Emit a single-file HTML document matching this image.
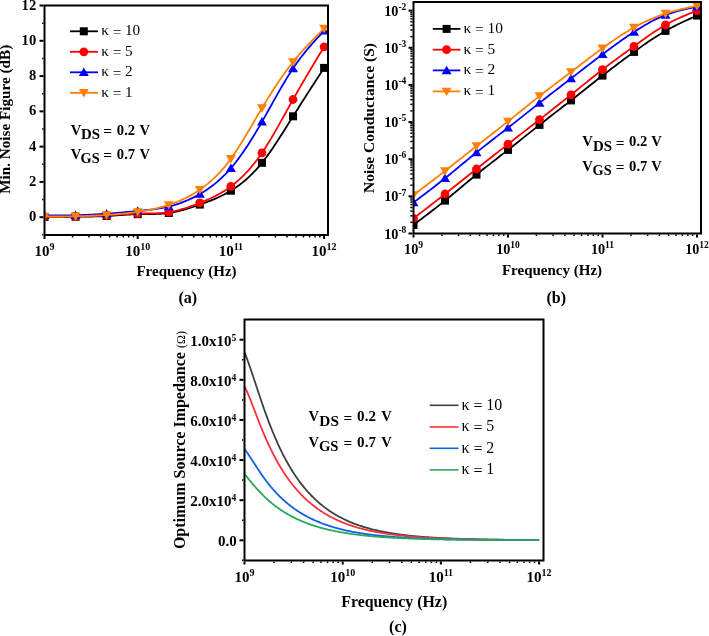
<!DOCTYPE html>
<html><head><meta charset="utf-8"><style>
html,body{margin:0;padding:0;background:#fff;}
svg{display:block;will-change:transform;}
text{font-family:"Liberation Serif", serif;fill:#000;}
</style></head><body>
<svg width="709" height="636" viewBox="0 0 709 636">
<rect width="709" height="636" fill="#fff"/>
<g id="plotA">
<clipPath id="cA"><rect x="44.5" y="5.5" width="283.5" height="229.5"/></clipPath>
<g clip-path="url(#cA)">
<path d="M44.5 217 L46.05 216.98 L47.61 216.97 L49.16 216.95 L50.71 216.94 L52.27 216.92 L53.82 216.91 L55.37 216.89 L56.93 216.87 L58.48 216.86 L60.03 216.84 L61.59 216.83 L63.14 216.81 L64.69 216.8 L66.25 216.78 L67.8 216.77 L69.35 216.76 L70.91 216.74 L72.46 216.73 L74.01 216.71 L75.57 216.7 L77.12 216.69 L78.67 216.67 L80.23 216.66 L81.78 216.64 L83.33 216.63 L84.89 216.61 L86.44 216.59 L87.99 216.57 L89.55 216.55 L91.1 216.52 L92.65 216.49 L94.21 216.45 L95.76 216.41 L97.31 216.37 L98.87 216.32 L100.42 216.27 L101.97 216.21 L103.53 216.15 L105.08 216.08 L106.63 216 L108.19 215.92 L109.74 215.83 L111.29 215.73 L112.85 215.63 L114.4 215.53 L115.95 215.42 L117.51 215.32 L119.06 215.21 L120.61 215.1 L122.17 215 L123.72 214.89 L125.27 214.79 L126.83 214.69 L128.38 214.6 L129.93 214.51 L131.49 214.44 L133.04 214.36 L134.59 214.3 L136.15 214.24 L137.7 214.2 L139.25 214.17 L140.81 214.14 L142.36 214.12 L143.91 214.11 L145.47 214.1 L147.02 214.1 L148.57 214.09 L150.13 214.08 L151.68 214.06 L153.23 214.04 L154.79 214.01 L156.34 213.96 L157.89 213.91 L159.45 213.84 L161 213.75 L162.55 213.65 L164.11 213.52 L165.66 213.37 L167.21 213.2 L168.77 213 L170.32 212.77 L171.87 212.52 L173.43 212.24 L174.98 211.93 L176.53 211.6 L178.09 211.24 L179.64 210.87 L181.19 210.48 L182.75 210.06 L184.3 209.63 L185.85 209.18 L187.41 208.72 L188.96 208.24 L190.51 207.75 L192.07 207.25 L193.62 206.73 L195.17 206.21 L196.73 205.68 L198.28 205.14 L199.83 204.6 L201.39 204.05 L202.94 203.5 L204.49 202.93 L206.05 202.36 L207.6 201.78 L209.15 201.19 L210.71 200.58 L212.26 199.95 L213.81 199.31 L215.37 198.65 L216.92 197.97 L218.47 197.27 L220.03 196.55 L221.58 195.8 L223.13 195.03 L224.69 194.22 L226.24 193.39 L227.79 192.53 L229.35 191.63 L230.9 190.7 L232.45 189.73 L234.01 188.73 L235.56 187.69 L237.11 186.61 L238.67 185.49 L240.22 184.32 L241.77 183.12 L243.33 181.86 L244.88 180.56 L246.43 179.22 L247.99 177.82 L249.54 176.37 L251.09 174.87 L252.65 173.32 L254.2 171.71 L255.75 170.05 L257.31 168.32 L258.86 166.54 L260.41 164.7 L261.97 162.8 L263.52 160.84 L265.07 158.81 L266.63 156.73 L268.18 154.6 L269.73 152.42 L271.29 150.19 L272.84 147.93 L274.39 145.62 L275.95 143.28 L277.5 140.91 L279.05 138.51 L280.61 136.09 L282.16 133.65 L283.71 131.19 L285.27 128.72 L286.82 126.24 L288.37 123.76 L289.93 121.27 L291.48 118.78 L293.03 116.3 L294.59 113.83 L296.14 111.36 L297.69 108.9 L299.25 106.45 L300.8 104.01 L302.35 101.57 L303.91 99.14 L305.46 96.72 L307.01 94.3 L308.57 91.88 L310.12 89.47 L311.67 87.07 L313.23 84.66 L314.78 82.26 L316.33 79.87 L317.89 77.47 L319.44 75.08 L320.99 72.68 L322.55 70.29 L324.1 67.9" fill="none" stroke="#000000" stroke-width="1.8"/>
<rect x="40.5" y="213" width="8" height="8" fill="#000000"/>
<rect x="71.57" y="212.7" width="8" height="8" fill="#000000"/>
<rect x="102.63" y="212" width="8" height="8" fill="#000000"/>
<rect x="133.7" y="210.2" width="8" height="8" fill="#000000"/>
<rect x="164.77" y="209" width="8" height="8" fill="#000000"/>
<rect x="195.83" y="200.6" width="8" height="8" fill="#000000"/>
<rect x="226.9" y="186.7" width="8" height="8" fill="#000000"/>
<rect x="257.97" y="158.8" width="8" height="8" fill="#000000"/>
<rect x="289.03" y="112.3" width="8" height="8" fill="#000000"/>
<rect x="320.1" y="63.9" width="8" height="8" fill="#000000"/>
<path d="M44.5 216.8 L46.05 216.79 L47.61 216.78 L49.16 216.77 L50.71 216.76 L52.27 216.75 L53.82 216.74 L55.37 216.73 L56.93 216.72 L58.48 216.71 L60.03 216.7 L61.59 216.68 L63.14 216.67 L64.69 216.65 L66.25 216.63 L67.8 216.61 L69.35 216.59 L70.91 216.57 L72.46 216.55 L74.01 216.53 L75.57 216.5 L77.12 216.47 L78.67 216.44 L80.23 216.41 L81.78 216.38 L83.33 216.34 L84.89 216.3 L86.44 216.26 L87.99 216.21 L89.55 216.16 L91.1 216.11 L92.65 216.06 L94.21 216 L95.76 215.94 L97.31 215.88 L98.87 215.81 L100.42 215.73 L101.97 215.66 L103.53 215.58 L105.08 215.49 L106.63 215.4 L108.19 215.31 L109.74 215.21 L111.29 215.1 L112.85 215 L114.4 214.89 L115.95 214.79 L117.51 214.68 L119.06 214.57 L120.61 214.47 L122.17 214.36 L123.72 214.26 L125.27 214.16 L126.83 214.07 L128.38 213.98 L129.93 213.9 L131.49 213.82 L133.04 213.76 L134.59 213.69 L136.15 213.64 L137.7 213.6 L139.25 213.57 L140.81 213.54 L142.36 213.52 L143.91 213.51 L145.47 213.5 L147.02 213.48 L148.57 213.47 L150.13 213.45 L151.68 213.43 L153.23 213.4 L154.79 213.36 L156.34 213.3 L157.89 213.23 L159.45 213.15 L161 213.05 L162.55 212.93 L164.11 212.78 L165.66 212.62 L167.21 212.42 L168.77 212.2 L170.32 211.95 L171.87 211.67 L173.43 211.36 L174.98 211.02 L176.53 210.66 L178.09 210.28 L179.64 209.87 L181.19 209.44 L182.75 208.98 L184.3 208.51 L185.85 208.02 L187.41 207.51 L188.96 206.98 L190.51 206.44 L192.07 205.88 L193.62 205.31 L195.17 204.72 L196.73 204.12 L198.28 203.52 L199.83 202.9 L201.39 202.27 L202.94 201.64 L204.49 200.99 L206.05 200.33 L207.6 199.65 L209.15 198.96 L210.71 198.25 L212.26 197.51 L213.81 196.75 L215.37 195.97 L216.92 195.16 L218.47 194.33 L220.03 193.46 L221.58 192.56 L223.13 191.63 L224.69 190.66 L226.24 189.66 L227.79 188.61 L229.35 187.53 L230.9 186.4 L232.45 185.23 L234.01 184.01 L235.56 182.74 L237.11 181.43 L238.67 180.07 L240.22 178.66 L241.77 177.19 L243.33 175.67 L244.88 174.1 L246.43 172.47 L247.99 170.79 L249.54 169.05 L251.09 167.25 L252.65 165.39 L254.2 163.47 L255.75 161.48 L257.31 159.44 L258.86 157.32 L260.41 155.15 L261.97 152.9 L263.52 150.59 L265.07 148.21 L266.63 145.77 L268.18 143.28 L269.73 140.74 L271.29 138.15 L272.84 135.52 L274.39 132.85 L275.95 130.15 L277.5 127.42 L279.05 124.66 L280.61 121.89 L282.16 119.1 L283.71 116.3 L285.27 113.49 L286.82 110.68 L288.37 107.87 L289.93 105.07 L291.48 102.28 L293.03 99.5 L294.59 96.74 L296.14 94.01 L297.69 91.28 L299.25 88.58 L300.8 85.89 L302.35 83.22 L303.91 80.56 L305.46 77.91 L307.01 75.28 L308.57 72.66 L310.12 70.04 L311.67 67.44 L313.23 64.84 L314.78 62.25 L316.33 59.67 L317.89 57.09 L319.44 54.51 L320.99 51.94 L322.55 49.37 L324.1 46.8" fill="none" stroke="#ff0000" stroke-width="1.8"/>
<circle cx="44.5" cy="216.8" r="4.4" fill="#ff0000"/>
<circle cx="75.57" cy="216.5" r="4.4" fill="#ff0000"/>
<circle cx="106.63" cy="215.4" r="4.4" fill="#ff0000"/>
<circle cx="137.7" cy="213.6" r="4.4" fill="#ff0000"/>
<circle cx="168.77" cy="212.2" r="4.4" fill="#ff0000"/>
<circle cx="199.83" cy="202.9" r="4.4" fill="#ff0000"/>
<circle cx="230.9" cy="186.4" r="4.4" fill="#ff0000"/>
<circle cx="261.97" cy="152.9" r="4.4" fill="#ff0000"/>
<circle cx="293.03" cy="99.5" r="4.4" fill="#ff0000"/>
<circle cx="324.1" cy="46.8" r="4.4" fill="#ff0000"/>
<path d="M44.5 215.3 L46.05 215.31 L47.61 215.32 L49.16 215.33 L50.71 215.34 L52.27 215.34 L53.82 215.35 L55.37 215.35 L56.93 215.36 L58.48 215.36 L60.03 215.36 L61.59 215.36 L63.14 215.35 L64.69 215.34 L66.25 215.33 L67.8 215.32 L69.35 215.3 L70.91 215.28 L72.46 215.26 L74.01 215.23 L75.57 215.2 L77.12 215.16 L78.67 215.12 L80.23 215.08 L81.78 215.03 L83.33 214.98 L84.89 214.92 L86.44 214.86 L87.99 214.79 L89.55 214.72 L91.1 214.65 L92.65 214.57 L94.21 214.49 L95.76 214.4 L97.31 214.31 L98.87 214.22 L100.42 214.12 L101.97 214.02 L103.53 213.92 L105.08 213.81 L106.63 213.7 L108.19 213.59 L109.74 213.47 L111.29 213.35 L112.85 213.22 L114.4 213.09 L115.95 212.96 L117.51 212.83 L119.06 212.7 L120.61 212.56 L122.17 212.43 L123.72 212.29 L125.27 212.15 L126.83 212 L128.38 211.86 L129.93 211.72 L131.49 211.58 L133.04 211.43 L134.59 211.29 L136.15 211.14 L137.7 211 L139.25 210.86 L140.81 210.71 L142.36 210.57 L143.91 210.42 L145.47 210.26 L147.02 210.1 L148.57 209.94 L150.13 209.76 L151.68 209.58 L153.23 209.39 L154.79 209.18 L156.34 208.96 L157.89 208.73 L159.45 208.48 L161 208.22 L162.55 207.93 L164.11 207.63 L165.66 207.31 L167.21 206.97 L168.77 206.6 L170.32 206.21 L171.87 205.8 L173.43 205.36 L174.98 204.89 L176.53 204.41 L178.09 203.89 L179.64 203.36 L181.19 202.79 L182.75 202.2 L184.3 201.59 L185.85 200.95 L187.41 200.28 L188.96 199.59 L190.51 198.87 L192.07 198.13 L193.62 197.36 L195.17 196.56 L196.73 195.73 L198.28 194.88 L199.83 194 L201.39 193.09 L202.94 192.15 L204.49 191.19 L206.05 190.18 L207.6 189.15 L209.15 188.08 L210.71 186.96 L212.26 185.81 L213.81 184.62 L215.37 183.38 L216.92 182.1 L218.47 180.77 L220.03 179.39 L221.58 177.96 L223.13 176.47 L224.69 174.94 L226.24 173.34 L227.79 171.69 L229.35 169.97 L230.9 168.2 L232.45 166.36 L234.01 164.46 L235.56 162.5 L237.11 160.49 L238.67 158.41 L240.22 156.28 L241.77 154.1 L243.33 151.87 L244.88 149.59 L246.43 147.26 L247.99 144.89 L249.54 142.47 L251.09 140.01 L252.65 137.52 L254.2 134.98 L255.75 132.41 L257.31 129.8 L258.86 127.17 L260.41 124.5 L261.97 121.8 L263.52 119.08 L265.07 116.33 L266.63 113.57 L268.18 110.79 L269.73 108.01 L271.29 105.22 L272.84 102.43 L274.39 99.65 L275.95 96.88 L277.5 94.12 L279.05 91.39 L280.61 88.67 L282.16 85.99 L283.71 83.34 L285.27 80.73 L286.82 78.16 L288.37 75.64 L289.93 73.17 L291.48 70.75 L293.03 68.4 L294.59 66.11 L296.14 63.89 L297.69 61.72 L299.25 59.61 L300.8 57.56 L302.35 55.55 L303.91 53.59 L305.46 51.67 L307.01 49.79 L308.57 47.95 L310.12 46.14 L311.67 44.36 L313.23 42.61 L314.78 40.88 L316.33 39.17 L317.89 37.48 L319.44 35.8 L320.99 34.12 L322.55 32.46 L324.1 30.8" fill="none" stroke="#0000ff" stroke-width="1.8"/>
<path d="M44.5 210.6L49.5 219.06L39.5 219.06Z" fill="#0000ff"/>
<path d="M75.57 210.5L80.57 218.96L70.57 218.96Z" fill="#0000ff"/>
<path d="M106.63 209L111.63 217.46L101.63 217.46Z" fill="#0000ff"/>
<path d="M137.7 206.3L142.7 214.76L132.7 214.76Z" fill="#0000ff"/>
<path d="M168.77 201.9L173.77 210.36L163.77 210.36Z" fill="#0000ff"/>
<path d="M199.83 189.3L204.83 197.76L194.83 197.76Z" fill="#0000ff"/>
<path d="M230.9 163.5L235.9 171.96L225.9 171.96Z" fill="#0000ff"/>
<path d="M261.97 117.1L266.97 125.56L256.97 125.56Z" fill="#0000ff"/>
<path d="M293.03 63.7L298.03 72.16L288.03 72.16Z" fill="#0000ff"/>
<path d="M324.1 26.1L329.1 34.56L319.1 34.56Z" fill="#0000ff"/>
<path d="M44.5 216.5 L46.05 216.5 L47.61 216.51 L49.16 216.51 L50.71 216.51 L52.27 216.51 L53.82 216.51 L55.37 216.51 L56.93 216.51 L58.48 216.5 L60.03 216.5 L61.59 216.49 L63.14 216.48 L64.69 216.47 L66.25 216.45 L67.8 216.43 L69.35 216.41 L70.91 216.39 L72.46 216.36 L74.01 216.33 L75.57 216.3 L77.12 216.26 L78.67 216.22 L80.23 216.18 L81.78 216.13 L83.33 216.08 L84.89 216.02 L86.44 215.96 L87.99 215.9 L89.55 215.83 L91.1 215.76 L92.65 215.69 L94.21 215.61 L95.76 215.53 L97.31 215.45 L98.87 215.37 L100.42 215.28 L101.97 215.19 L103.53 215.1 L105.08 215 L106.63 214.9 L108.19 214.8 L109.74 214.69 L111.29 214.59 L112.85 214.47 L114.4 214.36 L115.95 214.24 L117.51 214.11 L119.06 213.98 L120.61 213.85 L122.17 213.71 L123.72 213.56 L125.27 213.4 L126.83 213.24 L128.38 213.08 L129.93 212.9 L131.49 212.72 L133.04 212.53 L134.59 212.33 L136.15 212.12 L137.7 211.9 L139.25 211.67 L140.81 211.44 L142.36 211.19 L143.91 210.93 L145.47 210.66 L147.02 210.38 L148.57 210.08 L150.13 209.77 L151.68 209.45 L153.23 209.12 L154.79 208.77 L156.34 208.4 L157.89 208.02 L159.45 207.63 L161 207.22 L162.55 206.79 L164.11 206.34 L165.66 205.88 L167.21 205.4 L168.77 204.9 L170.32 204.38 L171.87 203.84 L173.43 203.28 L174.98 202.7 L176.53 202.1 L178.09 201.47 L179.64 200.81 L181.19 200.14 L182.75 199.43 L184.3 198.7 L185.85 197.94 L187.41 197.15 L188.96 196.34 L190.51 195.49 L192.07 194.61 L193.62 193.69 L195.17 192.75 L196.73 191.77 L198.28 190.75 L199.83 189.7 L201.39 188.61 L202.94 187.48 L204.49 186.32 L206.05 185.11 L207.6 183.86 L209.15 182.56 L210.71 181.21 L212.26 179.82 L213.81 178.38 L215.37 176.88 L216.92 175.33 L218.47 173.73 L220.03 172.06 L221.58 170.34 L223.13 168.56 L224.69 166.72 L226.24 164.82 L227.79 162.84 L229.35 160.81 L230.9 158.7 L232.45 156.52 L234.01 154.28 L235.56 151.98 L237.11 149.62 L238.67 147.21 L240.22 144.76 L241.77 142.26 L243.33 139.72 L244.88 137.15 L246.43 134.56 L247.99 131.94 L249.54 129.3 L251.09 126.65 L252.65 123.99 L254.2 121.32 L255.75 118.66 L257.31 116 L258.86 113.35 L260.41 110.72 L261.97 108.1 L263.52 105.51 L265.07 102.94 L266.63 100.4 L268.18 97.89 L269.73 95.4 L271.29 92.94 L272.84 90.51 L274.39 88.11 L275.95 85.74 L277.5 83.41 L279.05 81.11 L280.61 78.84 L282.16 76.6 L283.71 74.4 L285.27 72.24 L286.82 70.11 L288.37 68.03 L289.93 65.98 L291.48 63.97 L293.03 62 L294.59 60.07 L296.14 58.19 L297.69 56.34 L299.25 54.52 L300.8 52.74 L302.35 50.99 L303.91 49.27 L305.46 47.57 L307.01 45.91 L308.57 44.26 L310.12 42.63 L311.67 41.03 L313.23 39.44 L314.78 37.86 L316.33 36.3 L317.89 34.75 L319.44 33.2 L320.99 31.67 L322.55 30.13 L324.1 28.6" fill="none" stroke="#ff8000" stroke-width="1.8"/>
<path d="M44.5 221.2L49.5 212.74L39.5 212.74Z" fill="#ff8000"/>
<path d="M75.57 221L80.57 212.54L70.57 212.54Z" fill="#ff8000"/>
<path d="M106.63 219.6L111.63 211.14L101.63 211.14Z" fill="#ff8000"/>
<path d="M137.7 216.6L142.7 208.14L132.7 208.14Z" fill="#ff8000"/>
<path d="M168.77 209.6L173.77 201.14L163.77 201.14Z" fill="#ff8000"/>
<path d="M199.83 194.4L204.83 185.94L194.83 185.94Z" fill="#ff8000"/>
<path d="M230.9 163.4L235.9 154.94L225.9 154.94Z" fill="#ff8000"/>
<path d="M261.97 112.8L266.97 104.34L256.97 104.34Z" fill="#ff8000"/>
<path d="M293.03 66.7L298.03 58.24L288.03 58.24Z" fill="#ff8000"/>
<path d="M324.1 33.3L329.1 24.84L319.1 24.84Z" fill="#ff8000"/>
</g>
<path d="M44.5 5.5H328V235H44.5Z" fill="none" stroke="#000" stroke-width="2" stroke-linejoin="miter"/>
<line x1="43.5" y1="217.2" x2="39.5" y2="217.2" stroke="#000" stroke-width="2"/>
<line x1="43.5" y1="199.56" x2="42.1" y2="199.56" stroke="#000" stroke-width="1.5"/>
<line x1="43.5" y1="181.92" x2="39.5" y2="181.92" stroke="#000" stroke-width="2"/>
<line x1="43.5" y1="164.28" x2="42.1" y2="164.28" stroke="#000" stroke-width="1.5"/>
<line x1="43.5" y1="146.64" x2="39.5" y2="146.64" stroke="#000" stroke-width="2"/>
<line x1="43.5" y1="129" x2="42.1" y2="129" stroke="#000" stroke-width="1.5"/>
<line x1="43.5" y1="111.36" x2="39.5" y2="111.36" stroke="#000" stroke-width="2"/>
<line x1="43.5" y1="93.72" x2="42.1" y2="93.72" stroke="#000" stroke-width="1.5"/>
<line x1="43.5" y1="76.08" x2="39.5" y2="76.08" stroke="#000" stroke-width="2"/>
<line x1="43.5" y1="58.44" x2="42.1" y2="58.44" stroke="#000" stroke-width="1.5"/>
<line x1="43.5" y1="40.8" x2="39.5" y2="40.8" stroke="#000" stroke-width="2"/>
<line x1="43.5" y1="23.16" x2="42.1" y2="23.16" stroke="#000" stroke-width="1.5"/>
<line x1="43.5" y1="5.52" x2="39.5" y2="5.52" stroke="#000" stroke-width="2"/>
<line x1="43.5" y1="234.84" x2="42.1" y2="234.84" stroke="#000" stroke-width="1.5"/>
<text x="36.2" y="221.2" font-size="14.6" font-weight="bold" text-anchor="end" >0</text>
<text x="36.2" y="185.92" font-size="14.6" font-weight="bold" text-anchor="end" >2</text>
<text x="36.2" y="150.64" font-size="14.6" font-weight="bold" text-anchor="end" >4</text>
<text x="36.2" y="115.36" font-size="14.6" font-weight="bold" text-anchor="end" >6</text>
<text x="36.2" y="80.08" font-size="14.6" font-weight="bold" text-anchor="end" >8</text>
<text x="36.2" y="44.8" font-size="14.6" font-weight="bold" text-anchor="end" >10</text>
<text x="36.2" y="9.52" font-size="14.6" font-weight="bold" text-anchor="end" >12</text>
<line x1="44.5" y1="236" x2="44.5" y2="239" stroke="#000" stroke-width="2"/>
<line x1="72.56" y1="236" x2="72.56" y2="237.5" stroke="#000" stroke-width="1.5"/>
<line x1="88.97" y1="236" x2="88.97" y2="237.5" stroke="#000" stroke-width="1.5"/>
<line x1="100.61" y1="236" x2="100.61" y2="237.5" stroke="#000" stroke-width="1.5"/>
<line x1="109.64" y1="236" x2="109.64" y2="237.5" stroke="#000" stroke-width="1.5"/>
<line x1="117.02" y1="236" x2="117.02" y2="237.5" stroke="#000" stroke-width="1.5"/>
<line x1="123.26" y1="236" x2="123.26" y2="237.5" stroke="#000" stroke-width="1.5"/>
<line x1="128.67" y1="236" x2="128.67" y2="237.5" stroke="#000" stroke-width="1.5"/>
<line x1="133.44" y1="236" x2="133.44" y2="237.5" stroke="#000" stroke-width="1.5"/>
<line x1="137.7" y1="236" x2="137.7" y2="239" stroke="#000" stroke-width="2"/>
<line x1="165.76" y1="236" x2="165.76" y2="237.5" stroke="#000" stroke-width="1.5"/>
<line x1="182.17" y1="236" x2="182.17" y2="237.5" stroke="#000" stroke-width="1.5"/>
<line x1="193.81" y1="236" x2="193.81" y2="237.5" stroke="#000" stroke-width="1.5"/>
<line x1="202.84" y1="236" x2="202.84" y2="237.5" stroke="#000" stroke-width="1.5"/>
<line x1="210.22" y1="236" x2="210.22" y2="237.5" stroke="#000" stroke-width="1.5"/>
<line x1="216.46" y1="236" x2="216.46" y2="237.5" stroke="#000" stroke-width="1.5"/>
<line x1="221.87" y1="236" x2="221.87" y2="237.5" stroke="#000" stroke-width="1.5"/>
<line x1="226.64" y1="236" x2="226.64" y2="237.5" stroke="#000" stroke-width="1.5"/>
<line x1="230.9" y1="236" x2="230.9" y2="239" stroke="#000" stroke-width="2"/>
<line x1="258.96" y1="236" x2="258.96" y2="237.5" stroke="#000" stroke-width="1.5"/>
<line x1="275.37" y1="236" x2="275.37" y2="237.5" stroke="#000" stroke-width="1.5"/>
<line x1="287.01" y1="236" x2="287.01" y2="237.5" stroke="#000" stroke-width="1.5"/>
<line x1="296.04" y1="236" x2="296.04" y2="237.5" stroke="#000" stroke-width="1.5"/>
<line x1="303.42" y1="236" x2="303.42" y2="237.5" stroke="#000" stroke-width="1.5"/>
<line x1="309.66" y1="236" x2="309.66" y2="237.5" stroke="#000" stroke-width="1.5"/>
<line x1="315.07" y1="236" x2="315.07" y2="237.5" stroke="#000" stroke-width="1.5"/>
<line x1="319.84" y1="236" x2="319.84" y2="237.5" stroke="#000" stroke-width="1.5"/>
<line x1="324.1" y1="236" x2="324.1" y2="239" stroke="#000" stroke-width="2"/>
<text x="44.5" y="255.6" font-size="15" font-weight="bold" text-anchor="middle">10<tspan font-size="10" dy="-5.6">9</tspan></text>
<text x="137.7" y="255.6" font-size="15" font-weight="bold" text-anchor="middle">10<tspan font-size="10" dy="-5.6">10</tspan></text>
<text x="230.9" y="255.6" font-size="15" font-weight="bold" text-anchor="middle">10<tspan font-size="10" dy="-5.6">11</tspan></text>
<text x="324.1" y="255.6" font-size="15" font-weight="bold" text-anchor="middle">10<tspan font-size="10" dy="-5.6">12</tspan></text>
<text x="186.5" y="276.2" font-size="15" font-weight="bold" text-anchor="middle" >Frequency (Hz)</text>
<text x="187.8" y="302.7" font-size="16" font-weight="bold" text-anchor="middle" >(a)</text>
<text transform="translate(9.9 119.3) rotate(-90)" font-size="15.2" font-weight="bold" text-anchor="middle">Min. Noise Figure (dB)</text>
<line x1="70" y1="31.3" x2="98" y2="31.3" stroke="#000000" stroke-width="1.8"/>
<rect x="79.8" y="27.3" width="8" height="8" fill="#000000"/>
<text x="101.2" y="35.1" font-size="15.2" font-weight="normal" text-anchor="start" >κ <tspan dy="1.4">=</tspan><tspan dy="-1.4"> 10</tspan></text>
<line x1="70" y1="51.8" x2="98" y2="51.8" stroke="#ff0000" stroke-width="1.8"/>
<circle cx="83.8" cy="51.8" r="4.4" fill="#ff0000"/>
<text x="101.2" y="55.6" font-size="15.2" font-weight="normal" text-anchor="start" >κ <tspan dy="1.4">=</tspan><tspan dy="-1.4"> 5</tspan></text>
<line x1="70" y1="72.3" x2="98" y2="72.3" stroke="#0000ff" stroke-width="1.8"/>
<path d="M83.8 67.6L88.8 76.06L78.8 76.06Z" fill="#0000ff"/>
<text x="101.2" y="76.1" font-size="15.2" font-weight="normal" text-anchor="start" >κ <tspan dy="1.4">=</tspan><tspan dy="-1.4"> 2</tspan></text>
<line x1="70" y1="92.8" x2="98" y2="92.8" stroke="#ff8000" stroke-width="1.8"/>
<path d="M83.8 97.5L88.8 89.04L78.8 89.04Z" fill="#ff8000"/>
<text x="101.2" y="96.6" font-size="15.2" font-weight="normal" text-anchor="start" >κ <tspan dy="1.4">=</tspan><tspan dy="-1.4"> 1</tspan></text>
<text x="70.64" y="134.5" font-size="14.6" font-weight="bold">V</text>
<text x="80.95" y="138.9" font-size="14" font-weight="bold" textLength="19.1" lengthAdjust="spacingAndGlyphs">DS</text>
<text x="103.27" y="135.9" font-size="15.33" font-weight="bold">=</text>
<text x="116.84" y="134.5" font-size="14.6" font-weight="bold" textLength="18.3" lengthAdjust="spacingAndGlyphs">0.2</text>
<text x="139.44" y="134.5" font-size="14.6" font-weight="bold">V</text>
<text x="70.64" y="158.7" font-size="14.6" font-weight="bold">V</text>
<text x="80.52" y="163.1" font-size="14" font-weight="bold" textLength="19.1" lengthAdjust="spacingAndGlyphs">GS</text>
<text x="103.27" y="160.1" font-size="15.33" font-weight="bold">=</text>
<text x="116.84" y="158.7" font-size="14.6" font-weight="bold" textLength="18.3" lengthAdjust="spacingAndGlyphs">0.7</text>
<text x="139.44" y="158.7" font-size="14.6" font-weight="bold">V</text>
</g>
<g id="plotB">
<clipPath id="cB"><rect x="413.5" y="2" width="287.5" height="231.5"/></clipPath>
<g clip-path="url(#cB)">
<path d="M413.5 224.9 L415.07 223.71 L416.65 222.53 L418.23 221.34 L419.8 220.15 L421.38 218.96 L422.95 217.76 L424.52 216.57 L426.1 215.37 L427.68 214.17 L429.25 212.96 L430.82 211.75 L432.4 210.53 L433.98 209.31 L435.55 208.09 L437.12 206.86 L438.7 205.62 L440.27 204.38 L441.85 203.13 L443.43 201.87 L445 200.6 L446.57 199.33 L448.15 198.04 L449.73 196.75 L451.3 195.46 L452.88 194.16 L454.45 192.85 L456.02 191.55 L457.6 190.24 L459.18 188.92 L460.75 187.61 L462.32 186.3 L463.9 184.98 L465.48 183.67 L467.05 182.36 L468.62 181.06 L470.2 179.75 L471.77 178.46 L473.35 177.16 L474.93 175.88 L476.5 174.6 L478.07 173.33 L479.65 172.07 L481.23 170.81 L482.8 169.56 L484.38 168.31 L485.95 167.07 L487.52 165.84 L489.1 164.61 L490.68 163.38 L492.25 162.15 L493.82 160.93 L495.4 159.7 L496.98 158.48 L498.55 157.26 L500.12 156.04 L501.7 154.82 L503.27 153.59 L504.85 152.36 L506.43 151.13 L508 149.9 L509.57 148.66 L511.15 147.42 L512.73 146.18 L514.3 144.93 L515.88 143.68 L517.45 142.43 L519.02 141.18 L520.6 139.92 L522.17 138.67 L523.75 137.41 L525.33 136.15 L526.9 134.9 L528.48 133.64 L530.05 132.39 L531.62 131.13 L533.2 129.88 L534.77 128.63 L536.35 127.39 L537.92 126.14 L539.5 124.9 L541.08 123.66 L542.65 122.43 L544.23 121.2 L545.8 119.97 L547.38 118.74 L548.95 117.52 L550.52 116.3 L552.1 115.07 L553.67 113.85 L555.25 112.63 L556.83 111.41 L558.4 110.2 L559.98 108.98 L561.55 107.76 L563.12 106.53 L564.7 105.31 L566.27 104.09 L567.85 102.86 L569.42 101.63 L571 100.4 L572.58 99.17 L574.15 97.93 L575.73 96.69 L577.3 95.45 L578.88 94.21 L580.45 92.96 L582.02 91.72 L583.6 90.47 L585.17 89.22 L586.75 87.98 L588.33 86.73 L589.9 85.49 L591.48 84.24 L593.05 83 L594.62 81.76 L596.2 80.52 L597.77 79.29 L599.35 78.06 L600.92 76.83 L602.5 75.6 L604.08 74.38 L605.65 73.16 L607.23 71.94 L608.8 70.73 L610.38 69.53 L611.95 68.32 L613.52 67.13 L615.1 65.93 L616.67 64.74 L618.25 63.55 L619.83 62.37 L621.4 61.19 L622.98 60.01 L624.55 58.84 L626.12 57.68 L627.7 56.51 L629.27 55.35 L630.85 54.2 L632.42 53.05 L634 51.9 L635.58 50.76 L637.15 49.62 L638.73 48.49 L640.3 47.36 L641.88 46.24 L643.45 45.13 L645.02 44.03 L646.6 42.94 L648.17 41.86 L649.75 40.79 L651.33 39.73 L652.9 38.69 L654.48 37.66 L656.05 36.64 L657.62 35.64 L659.2 34.66 L660.77 33.69 L662.35 32.74 L663.92 31.81 L665.5 30.9 L667.08 30.01 L668.65 29.14 L670.22 28.28 L671.8 27.45 L673.38 26.63 L674.95 25.83 L676.52 25.04 L678.1 24.26 L679.67 23.49 L681.25 22.74 L682.83 22 L684.4 21.26 L685.97 20.54 L687.55 19.82 L689.12 19.11 L690.7 18.4 L692.27 17.7 L693.85 17 L695.42 16.3 L697 15.6" fill="none" stroke="#000000" stroke-width="1.8"/>
<rect x="409.5" y="220.9" width="8" height="8" fill="#000000"/>
<rect x="441" y="196.6" width="8" height="8" fill="#000000"/>
<rect x="472.5" y="170.6" width="8" height="8" fill="#000000"/>
<rect x="504" y="145.9" width="8" height="8" fill="#000000"/>
<rect x="535.5" y="120.9" width="8" height="8" fill="#000000"/>
<rect x="567" y="96.4" width="8" height="8" fill="#000000"/>
<rect x="598.5" y="71.6" width="8" height="8" fill="#000000"/>
<rect x="630" y="47.9" width="8" height="8" fill="#000000"/>
<rect x="661.5" y="26.9" width="8" height="8" fill="#000000"/>
<rect x="693" y="11.6" width="8" height="8" fill="#000000"/>
<path d="M413.5 218.4 L415.07 217.19 L416.65 215.98 L418.23 214.77 L419.8 213.55 L421.38 212.34 L422.95 211.13 L424.52 209.91 L426.1 208.7 L427.68 207.48 L429.25 206.26 L430.82 205.05 L432.4 203.83 L433.98 202.6 L435.55 201.38 L437.12 200.16 L438.7 198.93 L440.27 197.7 L441.85 196.47 L443.43 195.24 L445 194 L446.57 192.76 L448.15 191.52 L449.73 190.28 L451.3 189.03 L452.88 187.79 L454.45 186.54 L456.02 185.29 L457.6 184.04 L459.18 182.78 L460.75 181.53 L462.32 180.28 L463.9 179.02 L465.48 177.77 L467.05 176.52 L468.62 175.26 L470.2 174.01 L471.77 172.75 L473.35 171.5 L474.93 170.25 L476.5 169 L478.07 167.75 L479.65 166.5 L481.23 165.26 L482.8 164.01 L484.38 162.77 L485.95 161.52 L487.52 160.28 L489.1 159.04 L490.68 157.8 L492.25 156.56 L493.82 155.32 L495.4 154.08 L496.98 152.84 L498.55 151.61 L500.12 150.37 L501.7 149.14 L503.27 147.9 L504.85 146.67 L506.43 145.43 L508 144.2 L509.57 142.97 L511.15 141.73 L512.73 140.5 L514.3 139.27 L515.88 138.04 L517.45 136.81 L519.02 135.58 L520.6 134.35 L522.17 133.12 L523.75 131.89 L525.33 130.66 L526.9 129.43 L528.48 128.2 L530.05 126.97 L531.62 125.74 L533.2 124.51 L534.77 123.29 L536.35 122.06 L537.92 120.83 L539.5 119.6 L541.08 118.37 L542.65 117.14 L544.23 115.91 L545.8 114.69 L547.38 113.46 L548.95 112.22 L550.52 110.99 L552.1 109.76 L553.67 108.53 L555.25 107.29 L556.83 106.05 L558.4 104.81 L559.98 103.57 L561.55 102.33 L563.12 101.08 L564.7 99.83 L566.27 98.58 L567.85 97.32 L569.42 96.06 L571 94.8 L572.58 93.53 L574.15 92.27 L575.73 90.99 L577.3 89.72 L578.88 88.45 L580.45 87.17 L582.02 85.9 L583.6 84.62 L585.17 83.35 L586.75 82.08 L588.33 80.81 L589.9 79.54 L591.48 78.28 L593.05 77.02 L594.62 75.77 L596.2 74.52 L597.77 73.28 L599.35 72.05 L600.92 70.82 L602.5 69.6 L604.08 68.39 L605.65 67.19 L607.23 65.99 L608.8 64.8 L610.38 63.62 L611.95 62.44 L613.52 61.27 L615.1 60.1 L616.67 58.94 L618.25 57.78 L619.83 56.63 L621.4 55.48 L622.98 54.33 L624.55 53.18 L626.12 52.03 L627.7 50.89 L629.27 49.74 L630.85 48.59 L632.42 47.45 L634 46.3 L635.58 45.15 L637.15 44 L638.73 42.85 L640.3 41.71 L641.88 40.57 L643.45 39.43 L645.02 38.3 L646.6 37.18 L648.17 36.07 L649.75 34.97 L651.33 33.88 L652.9 32.81 L654.48 31.75 L656.05 30.71 L657.62 29.69 L659.2 28.68 L660.77 27.7 L662.35 26.74 L663.92 25.81 L665.5 24.9 L667.08 24.02 L668.65 23.16 L670.22 22.33 L671.8 21.52 L673.38 20.73 L674.95 19.97 L676.52 19.22 L678.1 18.49 L679.67 17.77 L681.25 17.07 L682.83 16.39 L684.4 15.71 L685.97 15.05 L687.55 14.4 L689.12 13.75 L690.7 13.11 L692.27 12.48 L693.85 11.85 L695.42 11.23 L697 10.6" fill="none" stroke="#ff0000" stroke-width="1.8"/>
<circle cx="413.5" cy="218.4" r="4.4" fill="#ff0000"/>
<circle cx="445" cy="194" r="4.4" fill="#ff0000"/>
<circle cx="476.5" cy="169" r="4.4" fill="#ff0000"/>
<circle cx="508" cy="144.2" r="4.4" fill="#ff0000"/>
<circle cx="539.5" cy="119.6" r="4.4" fill="#ff0000"/>
<circle cx="571" cy="94.8" r="4.4" fill="#ff0000"/>
<circle cx="602.5" cy="69.6" r="4.4" fill="#ff0000"/>
<circle cx="634" cy="46.3" r="4.4" fill="#ff0000"/>
<circle cx="665.5" cy="24.9" r="4.4" fill="#ff0000"/>
<circle cx="697" cy="10.6" r="4.4" fill="#ff0000"/>
<path d="M413.5 202.5 L415.07 201.32 L416.65 200.14 L418.23 198.95 L419.8 197.77 L421.38 196.58 L422.95 195.39 L424.52 194.2 L426.1 193.01 L427.68 191.81 L429.25 190.61 L430.82 189.4 L432.4 188.19 L433.98 186.98 L435.55 185.76 L437.12 184.53 L438.7 183.3 L440.27 182.06 L441.85 180.82 L443.43 179.56 L445 178.3 L446.57 177.03 L448.15 175.75 L449.73 174.47 L451.3 173.18 L452.88 171.88 L454.45 170.58 L456.02 169.28 L457.6 167.98 L459.18 166.67 L460.75 165.36 L462.32 164.05 L463.9 162.74 L465.48 161.44 L467.05 160.13 L468.62 158.83 L470.2 157.53 L471.77 156.24 L473.35 154.95 L474.93 153.67 L476.5 152.4 L478.07 151.13 L479.65 149.88 L481.23 148.62 L482.8 147.38 L484.38 146.14 L485.95 144.9 L487.52 143.67 L489.1 142.44 L490.68 141.22 L492.25 140 L493.82 138.78 L495.4 137.56 L496.98 136.34 L498.55 135.13 L500.12 133.91 L501.7 132.69 L503.27 131.47 L504.85 130.25 L506.43 129.03 L508 127.8 L509.57 126.57 L511.15 125.33 L512.73 124.1 L514.3 122.85 L515.88 121.61 L517.45 120.37 L519.02 119.12 L520.6 117.87 L522.17 116.62 L523.75 115.37 L525.33 114.12 L526.9 112.87 L528.48 111.62 L530.05 110.37 L531.62 109.12 L533.2 107.87 L534.77 106.62 L536.35 105.38 L537.92 104.14 L539.5 102.9 L541.08 101.66 L542.65 100.43 L544.23 99.2 L545.8 97.97 L547.38 96.75 L548.95 95.52 L550.52 94.3 L552.1 93.08 L553.67 91.86 L555.25 90.65 L556.83 89.43 L558.4 88.22 L559.98 87 L561.55 85.79 L563.12 84.57 L564.7 83.36 L566.27 82.15 L567.85 80.93 L569.42 79.72 L571 78.5 L572.58 77.28 L574.15 76.07 L575.73 74.85 L577.3 73.63 L578.88 72.41 L580.45 71.19 L582.02 69.97 L583.6 68.76 L585.17 67.54 L586.75 66.33 L588.33 65.11 L589.9 63.9 L591.48 62.69 L593.05 61.48 L594.62 60.28 L596.2 59.08 L597.77 57.88 L599.35 56.68 L600.92 55.49 L602.5 54.3 L604.08 53.11 L605.65 51.93 L607.23 50.76 L608.8 49.59 L610.38 48.42 L611.95 47.26 L613.52 46.11 L615.1 44.96 L616.67 43.83 L618.25 42.7 L619.83 41.57 L621.4 40.46 L622.98 39.35 L624.55 38.26 L626.12 37.17 L627.7 36.09 L629.27 35.03 L630.85 33.97 L632.42 32.93 L634 31.9 L635.58 30.88 L637.15 29.88 L638.73 28.88 L640.3 27.91 L641.88 26.95 L643.45 26 L645.02 25.07 L646.6 24.16 L648.17 23.27 L649.75 22.4 L651.33 21.56 L652.9 20.73 L654.48 19.92 L656.05 19.14 L657.62 18.39 L659.2 17.66 L660.77 16.95 L662.35 16.27 L663.92 15.62 L665.5 15 L667.08 14.41 L668.65 13.84 L670.22 13.31 L671.8 12.79 L673.38 12.3 L674.95 11.84 L676.52 11.39 L678.1 10.96 L679.67 10.55 L681.25 10.16 L682.83 9.78 L684.4 9.42 L685.97 9.06 L687.55 8.72 L689.12 8.39 L690.7 8.06 L692.27 7.74 L693.85 7.42 L695.42 7.11 L697 6.8" fill="none" stroke="#0000ff" stroke-width="1.8"/>
<path d="M413.5 197.8L418.5 206.26L408.5 206.26Z" fill="#0000ff"/>
<path d="M445 173.6L450 182.06L440 182.06Z" fill="#0000ff"/>
<path d="M476.5 147.7L481.5 156.16L471.5 156.16Z" fill="#0000ff"/>
<path d="M508 123.1L513 131.56L503 131.56Z" fill="#0000ff"/>
<path d="M539.5 98.2L544.5 106.66L534.5 106.66Z" fill="#0000ff"/>
<path d="M571 73.8L576 82.26L566 82.26Z" fill="#0000ff"/>
<path d="M602.5 49.6L607.5 58.06L597.5 58.06Z" fill="#0000ff"/>
<path d="M634 27.2L639 35.66L629 35.66Z" fill="#0000ff"/>
<path d="M665.5 10.3L670.5 18.76L660.5 18.76Z" fill="#0000ff"/>
<path d="M697 2.1L702 10.56L692 10.56Z" fill="#0000ff"/>
<path d="M413.5 195 L415.07 193.81 L416.65 192.63 L418.23 191.44 L419.8 190.25 L421.38 189.06 L422.95 187.87 L424.52 186.68 L426.1 185.49 L427.68 184.3 L429.25 183.1 L430.82 181.9 L432.4 180.71 L433.98 179.5 L435.55 178.3 L437.12 177.09 L438.7 175.88 L440.27 174.66 L441.85 173.45 L443.43 172.23 L445 171 L446.57 169.77 L448.15 168.54 L449.73 167.3 L451.3 166.06 L452.88 164.82 L454.45 163.57 L456.02 162.33 L457.6 161.08 L459.18 159.83 L460.75 158.58 L462.32 157.33 L463.9 156.08 L465.48 154.83 L467.05 153.58 L468.62 152.33 L470.2 151.08 L471.77 149.83 L473.35 148.58 L474.93 147.34 L476.5 146.1 L478.07 144.86 L479.65 143.63 L481.23 142.39 L482.8 141.16 L484.38 139.93 L485.95 138.7 L487.52 137.47 L489.1 136.25 L490.68 135.02 L492.25 133.79 L493.82 132.56 L495.4 131.33 L496.98 130.1 L498.55 128.86 L500.12 127.63 L501.7 126.39 L503.27 125.15 L504.85 123.9 L506.43 122.65 L508 121.4 L509.57 120.14 L511.15 118.88 L512.73 117.62 L514.3 116.35 L515.88 115.08 L517.45 113.8 L519.02 112.53 L520.6 111.26 L522.17 109.98 L523.75 108.71 L525.33 107.43 L526.9 106.16 L528.48 104.89 L530.05 103.62 L531.62 102.36 L533.2 101.1 L534.77 99.84 L536.35 98.59 L537.92 97.34 L539.5 96.1 L541.08 94.86 L542.65 93.63 L544.23 92.41 L545.8 91.19 L547.38 89.97 L548.95 88.76 L550.52 87.56 L552.1 86.35 L553.67 85.15 L555.25 83.95 L556.83 82.75 L558.4 81.56 L559.98 80.37 L561.55 79.17 L563.12 77.98 L564.7 76.78 L566.27 75.59 L567.85 74.4 L569.42 73.2 L571 72 L572.58 70.8 L574.15 69.6 L575.73 68.39 L577.3 67.19 L578.88 65.98 L580.45 64.78 L582.02 63.58 L583.6 62.37 L585.17 61.17 L586.75 59.97 L588.33 58.77 L589.9 57.58 L591.48 56.39 L593.05 55.21 L594.62 54.02 L596.2 52.85 L597.77 51.68 L599.35 50.51 L600.92 49.35 L602.5 48.2 L604.08 47.06 L605.65 45.92 L607.23 44.79 L608.8 43.67 L610.38 42.56 L611.95 41.47 L613.52 40.38 L615.1 39.3 L616.67 38.24 L618.25 37.19 L619.83 36.15 L621.4 35.12 L622.98 34.11 L624.55 33.12 L626.12 32.14 L627.7 31.18 L629.27 30.23 L630.85 29.3 L632.42 28.39 L634 27.5 L635.58 26.63 L637.15 25.77 L638.73 24.94 L640.3 24.12 L641.88 23.32 L643.45 22.55 L645.02 21.79 L646.6 21.05 L648.17 20.32 L649.75 19.62 L651.33 18.93 L652.9 18.27 L654.48 17.62 L656.05 16.99 L657.62 16.38 L659.2 15.79 L660.77 15.21 L662.35 14.66 L663.92 14.12 L665.5 13.6 L667.08 13.1 L668.65 12.61 L670.22 12.15 L671.8 11.69 L673.38 11.25 L674.95 10.83 L676.52 10.42 L678.1 10.02 L679.67 9.63 L681.25 9.25 L682.83 8.88 L684.4 8.51 L685.97 8.16 L687.55 7.81 L689.12 7.47 L690.7 7.13 L692.27 6.79 L693.85 6.46 L695.42 6.13 L697 5.8" fill="none" stroke="#ff8000" stroke-width="1.8"/>
<path d="M413.5 199.7L418.5 191.24L408.5 191.24Z" fill="#ff8000"/>
<path d="M445 175.7L450 167.24L440 167.24Z" fill="#ff8000"/>
<path d="M476.5 150.8L481.5 142.34L471.5 142.34Z" fill="#ff8000"/>
<path d="M508 126.1L513 117.64L503 117.64Z" fill="#ff8000"/>
<path d="M539.5 100.8L544.5 92.34L534.5 92.34Z" fill="#ff8000"/>
<path d="M571 76.7L576 68.24L566 68.24Z" fill="#ff8000"/>
<path d="M602.5 52.9L607.5 44.44L597.5 44.44Z" fill="#ff8000"/>
<path d="M634 32.2L639 23.74L629 23.74Z" fill="#ff8000"/>
<path d="M665.5 18.3L670.5 9.84L660.5 9.84Z" fill="#ff8000"/>
<path d="M697 10.5L702 2.04L692 2.04Z" fill="#ff8000"/>
</g>
<path d="M413.5 2H701V233.5H413.5Z" fill="none" stroke="#000" stroke-width="2" stroke-linejoin="miter"/>
<line x1="412.5" y1="233.5" x2="408.5" y2="233.5" stroke="#000" stroke-width="2"/>
<line x1="412.5" y1="222.32" x2="410.3" y2="222.32" stroke="#000" stroke-width="1.5"/>
<line x1="412.5" y1="215.77" x2="410.3" y2="215.77" stroke="#000" stroke-width="1.5"/>
<line x1="412.5" y1="211.13" x2="410.3" y2="211.13" stroke="#000" stroke-width="1.5"/>
<line x1="412.5" y1="207.53" x2="410.3" y2="207.53" stroke="#000" stroke-width="1.5"/>
<line x1="412.5" y1="204.59" x2="410.3" y2="204.59" stroke="#000" stroke-width="1.5"/>
<line x1="412.5" y1="202.1" x2="410.3" y2="202.1" stroke="#000" stroke-width="1.5"/>
<line x1="412.5" y1="199.95" x2="410.3" y2="199.95" stroke="#000" stroke-width="1.5"/>
<line x1="412.5" y1="198.05" x2="410.3" y2="198.05" stroke="#000" stroke-width="1.5"/>
<line x1="412.5" y1="196.35" x2="408.5" y2="196.35" stroke="#000" stroke-width="2"/>
<line x1="412.5" y1="185.17" x2="410.3" y2="185.17" stroke="#000" stroke-width="1.5"/>
<line x1="412.5" y1="178.62" x2="410.3" y2="178.62" stroke="#000" stroke-width="1.5"/>
<line x1="412.5" y1="173.98" x2="410.3" y2="173.98" stroke="#000" stroke-width="1.5"/>
<line x1="412.5" y1="170.38" x2="410.3" y2="170.38" stroke="#000" stroke-width="1.5"/>
<line x1="412.5" y1="167.44" x2="410.3" y2="167.44" stroke="#000" stroke-width="1.5"/>
<line x1="412.5" y1="164.95" x2="410.3" y2="164.95" stroke="#000" stroke-width="1.5"/>
<line x1="412.5" y1="162.8" x2="410.3" y2="162.8" stroke="#000" stroke-width="1.5"/>
<line x1="412.5" y1="160.9" x2="410.3" y2="160.9" stroke="#000" stroke-width="1.5"/>
<line x1="412.5" y1="159.2" x2="408.5" y2="159.2" stroke="#000" stroke-width="2"/>
<line x1="412.5" y1="148.02" x2="410.3" y2="148.02" stroke="#000" stroke-width="1.5"/>
<line x1="412.5" y1="141.47" x2="410.3" y2="141.47" stroke="#000" stroke-width="1.5"/>
<line x1="412.5" y1="136.83" x2="410.3" y2="136.83" stroke="#000" stroke-width="1.5"/>
<line x1="412.5" y1="133.23" x2="410.3" y2="133.23" stroke="#000" stroke-width="1.5"/>
<line x1="412.5" y1="130.29" x2="410.3" y2="130.29" stroke="#000" stroke-width="1.5"/>
<line x1="412.5" y1="127.8" x2="410.3" y2="127.8" stroke="#000" stroke-width="1.5"/>
<line x1="412.5" y1="125.65" x2="410.3" y2="125.65" stroke="#000" stroke-width="1.5"/>
<line x1="412.5" y1="123.75" x2="410.3" y2="123.75" stroke="#000" stroke-width="1.5"/>
<line x1="412.5" y1="122.05" x2="408.5" y2="122.05" stroke="#000" stroke-width="2"/>
<line x1="412.5" y1="110.87" x2="410.3" y2="110.87" stroke="#000" stroke-width="1.5"/>
<line x1="412.5" y1="104.32" x2="410.3" y2="104.32" stroke="#000" stroke-width="1.5"/>
<line x1="412.5" y1="99.68" x2="410.3" y2="99.68" stroke="#000" stroke-width="1.5"/>
<line x1="412.5" y1="96.08" x2="410.3" y2="96.08" stroke="#000" stroke-width="1.5"/>
<line x1="412.5" y1="93.14" x2="410.3" y2="93.14" stroke="#000" stroke-width="1.5"/>
<line x1="412.5" y1="90.65" x2="410.3" y2="90.65" stroke="#000" stroke-width="1.5"/>
<line x1="412.5" y1="88.5" x2="410.3" y2="88.5" stroke="#000" stroke-width="1.5"/>
<line x1="412.5" y1="86.6" x2="410.3" y2="86.6" stroke="#000" stroke-width="1.5"/>
<line x1="412.5" y1="84.9" x2="408.5" y2="84.9" stroke="#000" stroke-width="2"/>
<line x1="412.5" y1="73.72" x2="410.3" y2="73.72" stroke="#000" stroke-width="1.5"/>
<line x1="412.5" y1="67.17" x2="410.3" y2="67.17" stroke="#000" stroke-width="1.5"/>
<line x1="412.5" y1="62.53" x2="410.3" y2="62.53" stroke="#000" stroke-width="1.5"/>
<line x1="412.5" y1="58.93" x2="410.3" y2="58.93" stroke="#000" stroke-width="1.5"/>
<line x1="412.5" y1="55.99" x2="410.3" y2="55.99" stroke="#000" stroke-width="1.5"/>
<line x1="412.5" y1="53.5" x2="410.3" y2="53.5" stroke="#000" stroke-width="1.5"/>
<line x1="412.5" y1="51.35" x2="410.3" y2="51.35" stroke="#000" stroke-width="1.5"/>
<line x1="412.5" y1="49.45" x2="410.3" y2="49.45" stroke="#000" stroke-width="1.5"/>
<line x1="412.5" y1="47.75" x2="408.5" y2="47.75" stroke="#000" stroke-width="2"/>
<line x1="412.5" y1="36.57" x2="410.3" y2="36.57" stroke="#000" stroke-width="1.5"/>
<line x1="412.5" y1="30.02" x2="410.3" y2="30.02" stroke="#000" stroke-width="1.5"/>
<line x1="412.5" y1="25.38" x2="410.3" y2="25.38" stroke="#000" stroke-width="1.5"/>
<line x1="412.5" y1="21.78" x2="410.3" y2="21.78" stroke="#000" stroke-width="1.5"/>
<line x1="412.5" y1="18.84" x2="410.3" y2="18.84" stroke="#000" stroke-width="1.5"/>
<line x1="412.5" y1="16.35" x2="410.3" y2="16.35" stroke="#000" stroke-width="1.5"/>
<line x1="412.5" y1="14.2" x2="410.3" y2="14.2" stroke="#000" stroke-width="1.5"/>
<line x1="412.5" y1="12.3" x2="410.3" y2="12.3" stroke="#000" stroke-width="1.5"/>
<line x1="412.5" y1="10.6" x2="408.5" y2="10.6" stroke="#000" stroke-width="2"/>
<text x="406.3" y="238.5" font-size="14.2" font-weight="bold" text-anchor="end">10<tspan font-size="9.5" dy="-5.8">-8</tspan></text>
<text x="406.3" y="201.35" font-size="14.2" font-weight="bold" text-anchor="end">10<tspan font-size="9.5" dy="-5.8">-7</tspan></text>
<text x="406.3" y="164.2" font-size="14.2" font-weight="bold" text-anchor="end">10<tspan font-size="9.5" dy="-5.8">-6</tspan></text>
<text x="406.3" y="127.05" font-size="14.2" font-weight="bold" text-anchor="end">10<tspan font-size="9.5" dy="-5.8">-5</tspan></text>
<text x="406.3" y="89.9" font-size="14.2" font-weight="bold" text-anchor="end">10<tspan font-size="9.5" dy="-5.8">-4</tspan></text>
<text x="406.3" y="52.75" font-size="14.2" font-weight="bold" text-anchor="end">10<tspan font-size="9.5" dy="-5.8">-3</tspan></text>
<text x="406.3" y="15.6" font-size="14.2" font-weight="bold" text-anchor="end">10<tspan font-size="9.5" dy="-5.8">-2</tspan></text>
<line x1="413.5" y1="234.5" x2="413.5" y2="237.5" stroke="#000" stroke-width="2"/>
<line x1="441.95" y1="234.5" x2="441.95" y2="236" stroke="#000" stroke-width="1.5"/>
<line x1="458.59" y1="234.5" x2="458.59" y2="236" stroke="#000" stroke-width="1.5"/>
<line x1="470.39" y1="234.5" x2="470.39" y2="236" stroke="#000" stroke-width="1.5"/>
<line x1="479.55" y1="234.5" x2="479.55" y2="236" stroke="#000" stroke-width="1.5"/>
<line x1="487.04" y1="234.5" x2="487.04" y2="236" stroke="#000" stroke-width="1.5"/>
<line x1="493.36" y1="234.5" x2="493.36" y2="236" stroke="#000" stroke-width="1.5"/>
<line x1="498.84" y1="234.5" x2="498.84" y2="236" stroke="#000" stroke-width="1.5"/>
<line x1="503.68" y1="234.5" x2="503.68" y2="236" stroke="#000" stroke-width="1.5"/>
<line x1="508" y1="234.5" x2="508" y2="237.5" stroke="#000" stroke-width="2"/>
<line x1="536.45" y1="234.5" x2="536.45" y2="236" stroke="#000" stroke-width="1.5"/>
<line x1="553.09" y1="234.5" x2="553.09" y2="236" stroke="#000" stroke-width="1.5"/>
<line x1="564.89" y1="234.5" x2="564.89" y2="236" stroke="#000" stroke-width="1.5"/>
<line x1="574.05" y1="234.5" x2="574.05" y2="236" stroke="#000" stroke-width="1.5"/>
<line x1="581.54" y1="234.5" x2="581.54" y2="236" stroke="#000" stroke-width="1.5"/>
<line x1="587.86" y1="234.5" x2="587.86" y2="236" stroke="#000" stroke-width="1.5"/>
<line x1="593.34" y1="234.5" x2="593.34" y2="236" stroke="#000" stroke-width="1.5"/>
<line x1="598.18" y1="234.5" x2="598.18" y2="236" stroke="#000" stroke-width="1.5"/>
<line x1="602.5" y1="234.5" x2="602.5" y2="237.5" stroke="#000" stroke-width="2"/>
<line x1="630.95" y1="234.5" x2="630.95" y2="236" stroke="#000" stroke-width="1.5"/>
<line x1="647.59" y1="234.5" x2="647.59" y2="236" stroke="#000" stroke-width="1.5"/>
<line x1="659.39" y1="234.5" x2="659.39" y2="236" stroke="#000" stroke-width="1.5"/>
<line x1="668.55" y1="234.5" x2="668.55" y2="236" stroke="#000" stroke-width="1.5"/>
<line x1="676.04" y1="234.5" x2="676.04" y2="236" stroke="#000" stroke-width="1.5"/>
<line x1="682.36" y1="234.5" x2="682.36" y2="236" stroke="#000" stroke-width="1.5"/>
<line x1="687.84" y1="234.5" x2="687.84" y2="236" stroke="#000" stroke-width="1.5"/>
<line x1="692.68" y1="234.5" x2="692.68" y2="236" stroke="#000" stroke-width="1.5"/>
<line x1="697" y1="234.5" x2="697" y2="237.5" stroke="#000" stroke-width="2"/>
<text x="413.5" y="254.1" font-size="14.2" font-weight="bold" text-anchor="middle">10<tspan font-size="9.5" dy="-6">9</tspan></text>
<text x="508" y="254.1" font-size="14.2" font-weight="bold" text-anchor="middle">10<tspan font-size="9.5" dy="-6">10</tspan></text>
<text x="602.5" y="254.1" font-size="14.2" font-weight="bold" text-anchor="middle">10<tspan font-size="9.5" dy="-6">11</tspan></text>
<text x="697" y="254.1" font-size="14.2" font-weight="bold" text-anchor="middle">10<tspan font-size="9.5" dy="-6">12</tspan></text>
<text x="552" y="274.9" font-size="15" font-weight="bold" text-anchor="middle" >Frequency (Hz)</text>
<text x="556.3" y="302.7" font-size="16" font-weight="bold" text-anchor="middle" >(b)</text>
<text transform="translate(374 118) rotate(-90)" font-size="15.5" font-weight="bold" text-anchor="middle">Noise Conductance (S)</text>
<line x1="432.8" y1="28.9" x2="460.4" y2="28.9" stroke="#000000" stroke-width="1.8"/>
<rect x="442.6" y="24.9" width="8" height="8" fill="#000000"/>
<text x="463.4" y="32.7" font-size="15.4" font-weight="normal" text-anchor="start" >κ <tspan dy="1.4">=</tspan><tspan dy="-1.4"> 10</tspan></text>
<line x1="432.8" y1="49.7" x2="460.4" y2="49.7" stroke="#ff0000" stroke-width="1.8"/>
<circle cx="446.6" cy="49.7" r="4.4" fill="#ff0000"/>
<text x="463.4" y="53.5" font-size="15.4" font-weight="normal" text-anchor="start" >κ <tspan dy="1.4">=</tspan><tspan dy="-1.4"> 5</tspan></text>
<line x1="432.8" y1="70.4" x2="460.4" y2="70.4" stroke="#0000ff" stroke-width="1.8"/>
<path d="M446.6 65.7L451.6 74.16L441.6 74.16Z" fill="#0000ff"/>
<text x="463.4" y="74.2" font-size="15.4" font-weight="normal" text-anchor="start" >κ <tspan dy="1.4">=</tspan><tspan dy="-1.4"> 2</tspan></text>
<line x1="432.8" y1="91.4" x2="460.4" y2="91.4" stroke="#ff8000" stroke-width="1.8"/>
<path d="M446.6 96.1L451.6 87.64L441.6 87.64Z" fill="#ff8000"/>
<text x="463.4" y="95.2" font-size="15.4" font-weight="normal" text-anchor="start" >κ <tspan dy="1.4">=</tspan><tspan dy="-1.4"> 1</tspan></text>
<text x="582.24" y="146.1" font-size="14.6" font-weight="bold">V</text>
<text x="593.05" y="150.5" font-size="14" font-weight="bold" textLength="19.1" lengthAdjust="spacingAndGlyphs">DS</text>
<text x="615.77" y="147.5" font-size="15.33" font-weight="bold">=</text>
<text x="629.14" y="146.1" font-size="14.6" font-weight="bold" textLength="18.3" lengthAdjust="spacingAndGlyphs">0.2</text>
<text x="651.34" y="146.1" font-size="14.6" font-weight="bold">V</text>
<text x="582.24" y="170.5" font-size="14.6" font-weight="bold">V</text>
<text x="592.62" y="174.9" font-size="14" font-weight="bold" textLength="19.1" lengthAdjust="spacingAndGlyphs">GS</text>
<text x="615.77" y="171.9" font-size="15.33" font-weight="bold">=</text>
<text x="629.14" y="170.5" font-size="14.6" font-weight="bold" textLength="18.3" lengthAdjust="spacingAndGlyphs">0.7</text>
<text x="651.34" y="170.5" font-size="14.6" font-weight="bold">V</text>
</g>
<g id="plotC">
<path d="M244.5 352.41 L245.48 354.86 L246.46 357.4 L247.45 360.03 L248.43 362.73 L249.41 365.5 L250.39 368.32 L251.37 371.19 L252.36 374.1 L253.34 377.04 L254.32 380 L255.3 382.97 L256.28 385.95 L257.27 388.92 L258.25 391.89 L259.23 394.84 L260.21 397.76 L261.19 400.67 L262.18 403.54 L263.16 406.38 L264.14 409.19 L265.12 411.96 L266.1 414.68 L267.09 417.37 L268.07 420.01 L269.05 422.6 L270.03 425.15 L271.01 427.66 L272 430.11 L272.98 432.52 L273.96 434.89 L274.94 437.2 L275.92 439.47 L276.91 441.7 L277.89 443.87 L278.87 446.01 L279.85 448.1 L280.83 450.14 L281.82 452.14 L282.8 454.1 L283.78 456.02 L284.76 457.89 L285.74 459.72 L286.73 461.52 L287.71 463.27 L288.69 464.99 L289.67 466.67 L290.65 468.31 L291.64 469.92 L292.62 471.49 L293.6 473.02 L294.58 474.52 L295.56 475.99 L296.55 477.43 L297.53 478.83 L298.51 480.2 L299.49 481.55 L300.47 482.86 L301.46 484.14 L302.44 485.4 L303.42 486.62 L304.4 487.82 L305.38 488.99 L306.37 490.14 L307.35 491.26 L308.33 492.36 L309.31 493.43 L310.29 494.48 L311.28 495.5 L312.26 496.5 L313.24 497.48 L314.22 498.44 L315.2 499.37 L316.19 500.29 L317.17 501.18 L318.15 502.05 L319.13 502.91 L320.11 503.75 L321.1 504.56 L322.08 505.36 L323.06 506.14 L324.04 506.91 L325.02 507.65 L326.01 508.38 L326.99 509.09 L327.97 509.79 L328.95 510.47 L329.93 511.14 L330.92 511.79 L331.9 512.43 L332.88 513.05 L333.86 513.66 L334.84 514.26 L335.83 514.84 L336.81 515.41 L337.79 515.96 L338.77 516.51 L339.75 517.04 L340.74 517.56 L341.72 518.07 L342.7 518.56 L343.68 519.05 L344.66 519.53 L345.65 519.99 L346.63 520.44 L347.61 520.89 L348.59 521.32 L349.57 521.75 L350.56 522.16 L351.54 522.57 L352.52 522.96 L353.5 523.35 L354.48 523.73 L355.47 524.1 L356.45 524.46 L357.43 524.81 L358.41 525.16 L359.39 525.5 L360.38 525.83 L361.36 526.15 L362.34 526.47 L363.32 526.78 L364.3 527.08 L365.29 527.38 L366.27 527.67 L367.25 527.95 L368.23 528.22 L369.21 528.49 L370.2 528.76 L371.18 529.02 L372.16 529.27 L373.14 529.51 L374.12 529.76 L375.11 529.99 L376.09 530.22 L377.07 530.45 L378.05 530.67 L379.03 530.88 L380.02 531.09 L381 531.3 L381.98 531.5 L382.96 531.7 L383.94 531.89 L384.93 532.08 L385.91 532.26 L386.89 532.44 L387.87 532.62 L388.85 532.79 L389.84 532.96 L390.82 533.12 L391.8 533.28 L392.78 533.44 L393.76 533.59 L394.75 533.74 L395.73 533.89 L396.71 534.03 L397.69 534.17 L398.67 534.31 L399.66 534.44 L400.64 534.57 L401.62 534.7 L402.6 534.83 L403.58 534.95 L404.57 535.07 L405.55 535.18 L406.53 535.3 L407.51 535.41 L408.49 535.52 L409.48 535.63 L410.46 535.73 L411.44 535.83 L412.42 535.93 L413.4 536.03 L414.39 536.13 L415.37 536.22 L416.35 536.31 L417.33 536.4 L418.31 536.49 L419.3 536.57 L420.28 536.66 L421.26 536.74 L422.24 536.82 L423.22 536.89 L424.21 536.97 L425.19 537.04 L426.17 537.12 L427.15 537.19 L428.13 537.26 L429.12 537.33 L430.1 537.39 L431.08 537.46 L432.06 537.52 L433.04 537.58 L434.03 537.64 L435.01 537.7 L435.99 537.76 L436.97 537.82 L437.95 537.87 L438.94 537.93 L439.92 537.98 L440.9 538.03 L441.88 538.08 L442.86 538.13 L443.85 538.18 L444.83 538.23 L445.81 538.27 L446.79 538.32 L447.77 538.36 L448.76 538.41 L449.74 538.45 L450.72 538.49 L451.7 538.53 L452.68 538.57 L453.67 538.61 L454.65 538.65 L455.63 538.68 L456.61 538.72 L457.59 538.76 L458.58 538.79 L459.56 538.82 L460.54 538.86 L461.52 538.89 L462.5 538.92 L463.49 538.95 L464.47 538.98 L465.45 539.01 L466.43 539.04 L467.41 539.07 L468.4 539.1 L469.38 539.12 L470.36 539.15 L471.34 539.17 L472.32 539.2 L473.31 539.22 L474.29 539.25 L475.27 539.27 L476.25 539.3 L477.23 539.32 L478.22 539.34 L479.2 539.36 L480.18 539.38 L481.16 539.4 L482.14 539.42 L483.13 539.44 L484.11 539.46 L485.09 539.48 L486.07 539.5 L487.05 539.52 L488.04 539.53 L489.02 539.55 L490 539.57 L490.98 539.58 L491.96 539.6 L492.95 539.62 L493.93 539.63 L494.91 539.65 L495.89 539.66 L496.87 539.67 L497.86 539.69 L498.84 539.7 L499.82 539.72 L500.8 539.73 L501.78 539.74 L502.77 539.75 L503.75 539.77 L504.73 539.78 L505.71 539.79 L506.69 539.8 L507.68 539.81 L508.66 539.82 L509.64 539.83 L510.62 539.84 L511.6 539.85 L512.59 539.86 L513.57 539.87 L514.55 539.88 L515.53 539.89 L516.51 539.9 L517.5 539.91 L518.48 539.92 L519.46 539.93 L520.44 539.94 L521.42 539.94 L522.41 539.95 L523.39 539.96 L524.37 539.97 L525.35 539.98 L526.33 539.98 L527.32 539.99 L528.3 540 L529.28 540 L530.26 540.01 L531.24 540.02 L532.23 540.02 L533.21 540.03 L534.19 540.04 L535.17 540.04 L536.15 540.05 L537.14 540.05 L538.12 540.06 L539.1 540.06" fill="none" stroke="#404040" stroke-width="1.8"/>
<path d="M244.5 386.44 L245.48 388.38 L246.46 390.45 L247.45 392.63 L248.43 394.9 L249.41 397.27 L250.39 399.7 L251.37 402.18 L252.36 404.71 L253.34 407.26 L254.32 409.83 L255.3 412.4 L256.28 414.96 L257.27 417.52 L258.25 420.05 L259.23 422.56 L260.21 425.04 L261.19 427.48 L262.18 429.89 L263.16 432.26 L264.14 434.58 L265.12 436.87 L266.1 439.12 L267.09 441.32 L268.07 443.47 L269.05 445.59 L270.03 447.66 L271.01 449.69 L272 451.67 L272.98 453.62 L273.96 455.52 L274.94 457.38 L275.92 459.21 L276.91 460.99 L277.89 462.73 L278.87 464.44 L279.85 466.11 L280.83 467.74 L281.82 469.34 L282.8 470.9 L283.78 472.43 L284.76 473.93 L285.74 475.39 L286.73 476.82 L287.71 478.22 L288.69 479.58 L289.67 480.92 L290.65 482.23 L291.64 483.51 L292.62 484.76 L293.6 485.98 L294.58 487.18 L295.56 488.35 L296.55 489.5 L297.53 490.62 L298.51 491.71 L299.49 492.78 L300.47 493.83 L301.46 494.85 L302.44 495.85 L303.42 496.83 L304.4 497.79 L305.38 498.73 L306.37 499.64 L307.35 500.54 L308.33 501.41 L309.31 502.27 L310.29 503.11 L311.28 503.93 L312.26 504.73 L313.24 505.51 L314.22 506.28 L315.2 507.03 L316.19 507.76 L317.17 508.48 L318.15 509.18 L319.13 509.87 L320.11 510.54 L321.1 511.19 L322.08 511.83 L323.06 512.46 L324.04 513.07 L325.02 513.67 L326.01 514.26 L326.99 514.84 L327.97 515.4 L328.95 515.94 L329.93 516.48 L330.92 517.01 L331.9 517.52 L332.88 518.02 L333.86 518.51 L334.84 518.99 L335.83 519.46 L336.81 519.92 L337.79 520.37 L338.77 520.81 L339.75 521.24 L340.74 521.66 L341.72 522.07 L342.7 522.47 L343.68 522.86 L344.66 523.25 L345.65 523.62 L346.63 523.99 L347.61 524.35 L348.59 524.7 L349.57 525.05 L350.56 525.38 L351.54 525.71 L352.52 526.03 L353.5 526.35 L354.48 526.65 L355.47 526.95 L356.45 527.25 L357.43 527.54 L358.41 527.82 L359.39 528.09 L360.38 528.36 L361.36 528.62 L362.34 528.88 L363.32 529.13 L364.3 529.38 L365.29 529.62 L366.27 529.86 L367.25 530.09 L368.23 530.31 L369.21 530.53 L370.2 530.75 L371.18 530.96 L372.16 531.16 L373.14 531.36 L374.12 531.56 L375.11 531.75 L376.09 531.94 L377.07 532.13 L378.05 532.31 L379.03 532.48 L380.02 532.65 L381 532.82 L381.98 532.99 L382.96 533.15 L383.94 533.31 L384.93 533.46 L385.91 533.61 L386.89 533.76 L387.87 533.9 L388.85 534.04 L389.84 534.18 L390.82 534.32 L391.8 534.45 L392.78 534.58 L393.76 534.7 L394.75 534.83 L395.73 534.95 L396.71 535.06 L397.69 535.18 L398.67 535.29 L399.66 535.4 L400.64 535.51 L401.62 535.62 L402.6 535.72 L403.58 535.82 L404.57 535.92 L405.55 536.02 L406.53 536.11 L407.51 536.2 L408.49 536.29 L409.48 536.38 L410.46 536.47 L411.44 536.55 L412.42 536.63 L413.4 536.72 L414.39 536.79 L415.37 536.87 L416.35 536.95 L417.33 537.02 L418.31 537.09 L419.3 537.16 L420.28 537.23 L421.26 537.3 L422.24 537.37 L423.22 537.43 L424.21 537.49 L425.19 537.56 L426.17 537.62 L427.15 537.68 L428.13 537.73 L429.12 537.79 L430.1 537.85 L431.08 537.9 L432.06 537.95 L433.04 538 L434.03 538.05 L435.01 538.1 L435.99 538.15 L436.97 538.2 L437.95 538.25 L438.94 538.29 L439.92 538.34 L440.9 538.38 L441.88 538.42 L442.86 538.46 L443.85 538.5 L444.83 538.54 L445.81 538.58 L446.79 538.62 L447.77 538.66 L448.76 538.69 L449.74 538.73 L450.72 538.76 L451.7 538.8 L452.68 538.83 L453.67 538.86 L454.65 538.89 L455.63 538.92 L456.61 538.96 L457.59 538.98 L458.58 539.01 L459.56 539.04 L460.54 539.07 L461.52 539.1 L462.5 539.12 L463.49 539.15 L464.47 539.17 L465.45 539.2 L466.43 539.22 L467.41 539.25 L468.4 539.27 L469.38 539.29 L470.36 539.32 L471.34 539.34 L472.32 539.36 L473.31 539.38 L474.29 539.4 L475.27 539.42 L476.25 539.44 L477.23 539.46 L478.22 539.48 L479.2 539.49 L480.18 539.51 L481.16 539.53 L482.14 539.55 L483.13 539.56 L484.11 539.58 L485.09 539.6 L486.07 539.61 L487.05 539.63 L488.04 539.64 L489.02 539.66 L490 539.67 L490.98 539.68 L491.96 539.7 L492.95 539.71 L493.93 539.72 L494.91 539.74 L495.89 539.75 L496.87 539.76 L497.86 539.77 L498.84 539.78 L499.82 539.8 L500.8 539.81 L501.78 539.82 L502.77 539.83 L503.75 539.84 L504.73 539.85 L505.71 539.86 L506.69 539.87 L507.68 539.88 L508.66 539.89 L509.64 539.9 L510.62 539.91 L511.6 539.91 L512.59 539.92 L513.57 539.93 L514.55 539.94 L515.53 539.95 L516.51 539.95 L517.5 539.96 L518.48 539.97 L519.46 539.98 L520.44 539.98 L521.42 539.99 L522.41 540 L523.39 540 L524.37 540.01 L525.35 540.02 L526.33 540.02 L527.32 540.03 L528.3 540.04 L529.28 540.04 L530.26 540.05 L531.24 540.05 L532.23 540.06 L533.21 540.06 L534.19 540.07 L535.17 540.07 L536.15 540.08 L537.14 540.08 L538.12 540.09 L539.1 540.09" fill="none" stroke="#f8323c" stroke-width="1.8"/>
<path d="M244.5 449.15 L245.48 450.4 L246.46 451.71 L247.45 453.08 L248.43 454.5 L249.41 455.96 L250.39 457.45 L251.37 458.96 L252.36 460.49 L253.34 462.02 L254.32 463.55 L255.3 465.09 L256.28 466.61 L257.27 468.12 L258.25 469.61 L259.23 471.09 L260.21 472.55 L261.19 473.98 L262.18 475.39 L263.16 476.78 L264.14 478.14 L265.12 479.48 L266.1 480.79 L267.09 482.07 L268.07 483.33 L269.05 484.57 L270.03 485.78 L271.01 486.96 L272 488.12 L272.98 489.26 L273.96 490.37 L274.94 491.46 L275.92 492.52 L276.91 493.56 L277.89 494.58 L278.87 495.58 L279.85 496.55 L280.83 497.51 L281.82 498.44 L282.8 499.35 L283.78 500.25 L284.76 501.12 L285.74 501.98 L286.73 502.81 L287.71 503.63 L288.69 504.43 L289.67 505.21 L290.65 505.98 L291.64 506.73 L292.62 507.46 L293.6 508.18 L294.58 508.88 L295.56 509.56 L296.55 510.24 L297.53 510.89 L298.51 511.53 L299.49 512.16 L300.47 512.78 L301.46 513.38 L302.44 513.96 L303.42 514.54 L304.4 515.1 L305.38 515.65 L306.37 516.19 L307.35 516.72 L308.33 517.23 L309.31 517.73 L310.29 518.23 L311.28 518.71 L312.26 519.18 L313.24 519.64 L314.22 520.09 L315.2 520.53 L316.19 520.96 L317.17 521.39 L318.15 521.8 L319.13 522.2 L320.11 522.6 L321.1 522.98 L322.08 523.36 L323.06 523.73 L324.04 524.09 L325.02 524.45 L326.01 524.79 L326.99 525.13 L327.97 525.46 L328.95 525.79 L329.93 526.1 L330.92 526.41 L331.9 526.72 L332.88 527.01 L333.86 527.3 L334.84 527.59 L335.83 527.86 L336.81 528.14 L337.79 528.4 L338.77 528.66 L339.75 528.92 L340.74 529.16 L341.72 529.41 L342.7 529.64 L343.68 529.88 L344.66 530.1 L345.65 530.33 L346.63 530.55 L347.61 530.76 L348.59 530.97 L349.57 531.17 L350.56 531.37 L351.54 531.56 L352.52 531.76 L353.5 531.94 L354.48 532.12 L355.47 532.3 L356.45 532.48 L357.43 532.65 L358.41 532.81 L359.39 532.98 L360.38 533.14 L361.36 533.29 L362.34 533.45 L363.32 533.6 L364.3 533.74 L365.29 533.89 L366.27 534.03 L367.25 534.16 L368.23 534.3 L369.21 534.43 L370.2 534.56 L371.18 534.68 L372.16 534.8 L373.14 534.92 L374.12 535.04 L375.11 535.16 L376.09 535.27 L377.07 535.38 L378.05 535.49 L379.03 535.59 L380.02 535.69 L381 535.79 L381.98 535.89 L382.96 535.99 L383.94 536.08 L384.93 536.18 L385.91 536.27 L386.89 536.35 L387.87 536.44 L388.85 536.52 L389.84 536.61 L390.82 536.69 L391.8 536.77 L392.78 536.84 L393.76 536.92 L394.75 536.99 L395.73 537.06 L396.71 537.13 L397.69 537.2 L398.67 537.27 L399.66 537.34 L400.64 537.4 L401.62 537.47 L402.6 537.53 L403.58 537.59 L404.57 537.65 L405.55 537.71 L406.53 537.76 L407.51 537.82 L408.49 537.87 L409.48 537.92 L410.46 537.98 L411.44 538.03 L412.42 538.08 L413.4 538.13 L414.39 538.17 L415.37 538.22 L416.35 538.26 L417.33 538.31 L418.31 538.35 L419.3 538.39 L420.28 538.44 L421.26 538.48 L422.24 538.52 L423.22 538.56 L424.21 538.59 L425.19 538.63 L426.17 538.67 L427.15 538.7 L428.13 538.74 L429.12 538.77 L430.1 538.81 L431.08 538.84 L432.06 538.87 L433.04 538.9 L434.03 538.93 L435.01 538.96 L435.99 538.99 L436.97 539.02 L437.95 539.05 L438.94 539.07 L439.92 539.1 L440.9 539.13 L441.88 539.15 L442.86 539.18 L443.85 539.2 L444.83 539.23 L445.81 539.25 L446.79 539.27 L447.77 539.3 L448.76 539.32 L449.74 539.34 L450.72 539.36 L451.7 539.38 L452.68 539.4 L453.67 539.42 L454.65 539.44 L455.63 539.46 L456.61 539.48 L457.59 539.49 L458.58 539.51 L459.56 539.53 L460.54 539.55 L461.52 539.56 L462.5 539.58 L463.49 539.59 L464.47 539.61 L465.45 539.62 L466.43 539.64 L467.41 539.65 L468.4 539.67 L469.38 539.68 L470.36 539.7 L471.34 539.71 L472.32 539.72 L473.31 539.73 L474.29 539.75 L475.27 539.76 L476.25 539.77 L477.23 539.78 L478.22 539.79 L479.2 539.8 L480.18 539.82 L481.16 539.83 L482.14 539.84 L483.13 539.85 L484.11 539.86 L485.09 539.87 L486.07 539.88 L487.05 539.88 L488.04 539.89 L489.02 539.9 L490 539.91 L490.98 539.92 L491.96 539.93 L492.95 539.94 L493.93 539.94 L494.91 539.95 L495.89 539.96 L496.87 539.97 L497.86 539.97 L498.84 539.98 L499.82 539.99 L500.8 539.99 L501.78 540 L502.77 540.01 L503.75 540.01 L504.73 540.02 L505.71 540.03 L506.69 540.03 L507.68 540.04 L508.66 540.04 L509.64 540.05 L510.62 540.06 L511.6 540.06 L512.59 540.07 L513.57 540.07 L514.55 540.08 L515.53 540.08 L516.51 540.09 L517.5 540.09 L518.48 540.09 L519.46 540.1 L520.44 540.1 L521.42 540.11 L522.41 540.11 L523.39 540.12 L524.37 540.12 L525.35 540.12 L526.33 540.13 L527.32 540.13 L528.3 540.14 L529.28 540.14 L530.26 540.14 L531.24 540.15 L532.23 540.15 L533.21 540.15 L534.19 540.16 L535.17 540.16 L536.15 540.16 L537.14 540.17 L538.12 540.17 L539.1 540.17" fill="none" stroke="#1262e0" stroke-width="1.8"/>
<path d="M244.5 474.04 L245.48 475.22 L246.46 476.41 L247.45 477.61 L248.43 478.81 L249.41 480.01 L250.39 481.21 L251.37 482.4 L252.36 483.57 L253.34 484.74 L254.32 485.88 L255.3 487.01 L256.28 488.13 L257.27 489.22 L258.25 490.3 L259.23 491.36 L260.21 492.4 L261.19 493.41 L262.18 494.41 L263.16 495.39 L264.14 496.35 L265.12 497.29 L266.1 498.21 L267.09 499.11 L268.07 499.99 L269.05 500.86 L270.03 501.7 L271.01 502.53 L272 503.34 L272.98 504.13 L273.96 504.91 L274.94 505.67 L275.92 506.41 L276.91 507.14 L277.89 507.85 L278.87 508.55 L279.85 509.23 L280.83 509.9 L281.82 510.55 L282.8 511.19 L283.78 511.82 L284.76 512.43 L285.74 513.03 L286.73 513.61 L287.71 514.19 L288.69 514.75 L289.67 515.3 L290.65 515.83 L291.64 516.36 L292.62 516.87 L293.6 517.38 L294.58 517.87 L295.56 518.35 L296.55 518.82 L297.53 519.28 L298.51 519.74 L299.49 520.18 L300.47 520.61 L301.46 521.03 L302.44 521.45 L303.42 521.85 L304.4 522.25 L305.38 522.64 L306.37 523.02 L307.35 523.39 L308.33 523.75 L309.31 524.11 L310.29 524.45 L311.28 524.8 L312.26 525.13 L313.24 525.45 L314.22 525.77 L315.2 526.09 L316.19 526.39 L317.17 526.69 L318.15 526.98 L319.13 527.27 L320.11 527.55 L321.1 527.82 L322.08 528.09 L323.06 528.35 L324.04 528.61 L325.02 528.86 L326.01 529.11 L326.99 529.35 L327.97 529.58 L328.95 529.81 L329.93 530.04 L330.92 530.26 L331.9 530.47 L332.88 530.69 L333.86 530.89 L334.84 531.09 L335.83 531.29 L336.81 531.49 L337.79 531.67 L338.77 531.86 L339.75 532.04 L340.74 532.22 L341.72 532.39 L342.7 532.56 L343.68 532.73 L344.66 532.89 L345.65 533.05 L346.63 533.21 L347.61 533.36 L348.59 533.51 L349.57 533.65 L350.56 533.8 L351.54 533.94 L352.52 534.07 L353.5 534.21 L354.48 534.34 L355.47 534.47 L356.45 534.59 L357.43 534.71 L358.41 534.83 L359.39 534.95 L360.38 535.07 L361.36 535.18 L362.34 535.29 L363.32 535.4 L364.3 535.5 L365.29 535.6 L366.27 535.71 L367.25 535.8 L368.23 535.9 L369.21 536 L370.2 536.09 L371.18 536.18 L372.16 536.27 L373.14 536.35 L374.12 536.44 L375.11 536.52 L376.09 536.6 L377.07 536.68 L378.05 536.76 L379.03 536.84 L380.02 536.91 L381 536.98 L381.98 537.05 L382.96 537.12 L383.94 537.19 L384.93 537.26 L385.91 537.32 L386.89 537.39 L387.87 537.45 L388.85 537.51 L389.84 537.57 L390.82 537.63 L391.8 537.69 L392.78 537.74 L393.76 537.8 L394.75 537.85 L395.73 537.91 L396.71 537.96 L397.69 538.01 L398.67 538.06 L399.66 538.1 L400.64 538.15 L401.62 538.2 L402.6 538.24 L403.58 538.29 L404.57 538.33 L405.55 538.37 L406.53 538.41 L407.51 538.45 L408.49 538.49 L409.48 538.53 L410.46 538.57 L411.44 538.61 L412.42 538.64 L413.4 538.68 L414.39 538.72 L415.37 538.75 L416.35 538.78 L417.33 538.82 L418.31 538.85 L419.3 538.88 L420.28 538.91 L421.26 538.94 L422.24 538.97 L423.22 539 L424.21 539.02 L425.19 539.05 L426.17 539.08 L427.15 539.1 L428.13 539.13 L429.12 539.16 L430.1 539.18 L431.08 539.2 L432.06 539.23 L433.04 539.25 L434.03 539.27 L435.01 539.3 L435.99 539.32 L436.97 539.34 L437.95 539.36 L438.94 539.38 L439.92 539.4 L440.9 539.42 L441.88 539.44 L442.86 539.46 L443.85 539.47 L444.83 539.49 L445.81 539.51 L446.79 539.53 L447.77 539.54 L448.76 539.56 L449.74 539.57 L450.72 539.59 L451.7 539.61 L452.68 539.62 L453.67 539.64 L454.65 539.65 L455.63 539.66 L456.61 539.68 L457.59 539.69 L458.58 539.7 L459.56 539.72 L460.54 539.73 L461.52 539.74 L462.5 539.75 L463.49 539.77 L464.47 539.78 L465.45 539.79 L466.43 539.8 L467.41 539.81 L468.4 539.82 L469.38 539.83 L470.36 539.84 L471.34 539.85 L472.32 539.86 L473.31 539.87 L474.29 539.88 L475.27 539.89 L476.25 539.9 L477.23 539.91 L478.22 539.91 L479.2 539.92 L480.18 539.93 L481.16 539.94 L482.14 539.95 L483.13 539.95 L484.11 539.96 L485.09 539.97 L486.07 539.98 L487.05 539.98 L488.04 539.99 L489.02 540 L490 540 L490.98 540.01 L491.96 540.02 L492.95 540.02 L493.93 540.03 L494.91 540.03 L495.89 540.04 L496.87 540.04 L497.86 540.05 L498.84 540.06 L499.82 540.06 L500.8 540.07 L501.78 540.07 L502.77 540.08 L503.75 540.08 L504.73 540.09 L505.71 540.09 L506.69 540.09 L507.68 540.1 L508.66 540.1 L509.64 540.11 L510.62 540.11 L511.6 540.12 L512.59 540.12 L513.57 540.12 L514.55 540.13 L515.53 540.13 L516.51 540.13 L517.5 540.14 L518.48 540.14 L519.46 540.14 L520.44 540.15 L521.42 540.15 L522.41 540.15 L523.39 540.16 L524.37 540.16 L525.35 540.16 L526.33 540.17 L527.32 540.17 L528.3 540.17 L529.28 540.18 L530.26 540.18 L531.24 540.18 L532.23 540.18 L533.21 540.19 L534.19 540.19 L535.17 540.19 L536.15 540.19 L537.14 540.2 L538.12 540.2 L539.1 540.2" fill="none" stroke="#2ca65e" stroke-width="1.8"/>
<path d="M244.5 319.5H543.5V560.5H244.5Z" fill="none" stroke="#000" stroke-width="2" stroke-linejoin="miter"/>
<line x1="243.5" y1="540.3" x2="239.5" y2="540.3" stroke="#000" stroke-width="2"/>
<line x1="243.5" y1="520.24" x2="242" y2="520.24" stroke="#000" stroke-width="1.5"/>
<line x1="243.5" y1="500.18" x2="239.5" y2="500.18" stroke="#000" stroke-width="2"/>
<line x1="243.5" y1="480.12" x2="242" y2="480.12" stroke="#000" stroke-width="1.5"/>
<line x1="243.5" y1="460.06" x2="239.5" y2="460.06" stroke="#000" stroke-width="2"/>
<line x1="243.5" y1="440" x2="242" y2="440" stroke="#000" stroke-width="1.5"/>
<line x1="243.5" y1="419.94" x2="239.5" y2="419.94" stroke="#000" stroke-width="2"/>
<line x1="243.5" y1="399.88" x2="242" y2="399.88" stroke="#000" stroke-width="1.5"/>
<line x1="243.5" y1="379.82" x2="239.5" y2="379.82" stroke="#000" stroke-width="2"/>
<line x1="243.5" y1="359.76" x2="242" y2="359.76" stroke="#000" stroke-width="1.5"/>
<line x1="243.5" y1="339.7" x2="239.5" y2="339.7" stroke="#000" stroke-width="2"/>
<line x1="243.5" y1="560.36" x2="242" y2="560.36" stroke="#000" stroke-width="1.5"/>
<text x="236.8" y="545.9" font-size="15" font-weight="bold" text-anchor="end" >0.0</text>
<text x="236.4" y="506.28" font-size="15" font-weight="bold" text-anchor="end" >2.0x10<tspan font-size="9.6" dy="-5">4</tspan></text>
<text x="236.4" y="466.16" font-size="15" font-weight="bold" text-anchor="end" >4.0x10<tspan font-size="9.6" dy="-5">4</tspan></text>
<text x="236.4" y="426.04" font-size="15" font-weight="bold" text-anchor="end" >6.0x10<tspan font-size="9.6" dy="-5">4</tspan></text>
<text x="236.4" y="385.92" font-size="15" font-weight="bold" text-anchor="end" >8.0x10<tspan font-size="9.6" dy="-5">4</tspan></text>
<text x="236.4" y="345.8" font-size="15" font-weight="bold" text-anchor="end" >1.0x10<tspan font-size="9.6" dy="-5">5</tspan></text>
<line x1="244.5" y1="561.5" x2="244.5" y2="564.5" stroke="#000" stroke-width="2"/>
<line x1="274.06" y1="561.5" x2="274.06" y2="563" stroke="#000" stroke-width="1.5"/>
<line x1="291.35" y1="561.5" x2="291.35" y2="563" stroke="#000" stroke-width="1.5"/>
<line x1="303.62" y1="561.5" x2="303.62" y2="563" stroke="#000" stroke-width="1.5"/>
<line x1="313.14" y1="561.5" x2="313.14" y2="563" stroke="#000" stroke-width="1.5"/>
<line x1="320.91" y1="561.5" x2="320.91" y2="563" stroke="#000" stroke-width="1.5"/>
<line x1="327.49" y1="561.5" x2="327.49" y2="563" stroke="#000" stroke-width="1.5"/>
<line x1="333.18" y1="561.5" x2="333.18" y2="563" stroke="#000" stroke-width="1.5"/>
<line x1="338.21" y1="561.5" x2="338.21" y2="563" stroke="#000" stroke-width="1.5"/>
<line x1="342.7" y1="561.5" x2="342.7" y2="564.5" stroke="#000" stroke-width="2"/>
<line x1="372.26" y1="561.5" x2="372.26" y2="563" stroke="#000" stroke-width="1.5"/>
<line x1="389.55" y1="561.5" x2="389.55" y2="563" stroke="#000" stroke-width="1.5"/>
<line x1="401.82" y1="561.5" x2="401.82" y2="563" stroke="#000" stroke-width="1.5"/>
<line x1="411.34" y1="561.5" x2="411.34" y2="563" stroke="#000" stroke-width="1.5"/>
<line x1="419.11" y1="561.5" x2="419.11" y2="563" stroke="#000" stroke-width="1.5"/>
<line x1="425.69" y1="561.5" x2="425.69" y2="563" stroke="#000" stroke-width="1.5"/>
<line x1="431.38" y1="561.5" x2="431.38" y2="563" stroke="#000" stroke-width="1.5"/>
<line x1="436.41" y1="561.5" x2="436.41" y2="563" stroke="#000" stroke-width="1.5"/>
<line x1="440.9" y1="561.5" x2="440.9" y2="564.5" stroke="#000" stroke-width="2"/>
<line x1="470.46" y1="561.5" x2="470.46" y2="563" stroke="#000" stroke-width="1.5"/>
<line x1="487.75" y1="561.5" x2="487.75" y2="563" stroke="#000" stroke-width="1.5"/>
<line x1="500.02" y1="561.5" x2="500.02" y2="563" stroke="#000" stroke-width="1.5"/>
<line x1="509.54" y1="561.5" x2="509.54" y2="563" stroke="#000" stroke-width="1.5"/>
<line x1="517.31" y1="561.5" x2="517.31" y2="563" stroke="#000" stroke-width="1.5"/>
<line x1="523.89" y1="561.5" x2="523.89" y2="563" stroke="#000" stroke-width="1.5"/>
<line x1="529.58" y1="561.5" x2="529.58" y2="563" stroke="#000" stroke-width="1.5"/>
<line x1="534.61" y1="561.5" x2="534.61" y2="563" stroke="#000" stroke-width="1.5"/>
<line x1="539.1" y1="561.5" x2="539.1" y2="564.5" stroke="#000" stroke-width="2"/>
<text x="244.5" y="582" font-size="15" font-weight="bold" text-anchor="middle">10<tspan font-size="10" dy="-6.5">9</tspan></text>
<text x="342.7" y="582" font-size="15" font-weight="bold" text-anchor="middle">10<tspan font-size="10" dy="-6.5">10</tspan></text>
<text x="440.9" y="582" font-size="15" font-weight="bold" text-anchor="middle">10<tspan font-size="10" dy="-6.5">11</tspan></text>
<text x="539.1" y="582" font-size="15" font-weight="bold" text-anchor="middle">10<tspan font-size="10" dy="-6.5">12</tspan></text>
<text x="394.2" y="607.3" font-size="16" font-weight="bold" text-anchor="middle" textLength="106" lengthAdjust="spacingAndGlyphs">Frequency (Hz)</text>
<text x="398" y="632.3" font-size="16" font-weight="bold" text-anchor="middle" >(c)</text>
<text transform="translate(185.3 440.1) rotate(-90)" font-size="16" font-weight="bold" text-anchor="middle">Optimum Source Impedance <tspan font-weight="normal" font-size="12">(Ω)</tspan></text>
<line x1="429.6" y1="405.3" x2="458.5" y2="405.3" stroke="#404040" stroke-width="1.6"/>
<text x="461.4" y="409.6" font-size="15.9" font-weight="normal" text-anchor="start" >κ <tspan dy="1.4">=</tspan><tspan dy="-1.4"> 10</tspan></text>
<line x1="429.6" y1="427" x2="458.5" y2="427" stroke="#f8323c" stroke-width="1.6"/>
<text x="461.4" y="431.3" font-size="15.9" font-weight="normal" text-anchor="start" >κ <tspan dy="1.4">=</tspan><tspan dy="-1.4"> 5</tspan></text>
<line x1="429.6" y1="448.3" x2="458.5" y2="448.3" stroke="#1262e0" stroke-width="1.6"/>
<text x="461.4" y="452.6" font-size="15.9" font-weight="normal" text-anchor="start" >κ <tspan dy="1.4">=</tspan><tspan dy="-1.4"> 2</tspan></text>
<line x1="429.6" y1="469.9" x2="458.5" y2="469.9" stroke="#2ca65e" stroke-width="1.6"/>
<text x="461.4" y="474.2" font-size="15.9" font-weight="normal" text-anchor="start" >κ <tspan dy="1.4">=</tspan><tspan dy="-1.4"> 1</tspan></text>
<text x="308.44" y="421.4" font-size="14.6" font-weight="bold">V</text>
<text x="319.35" y="425.8" font-size="14" font-weight="bold" textLength="19.6" lengthAdjust="spacingAndGlyphs">DS</text>
<text x="343.47" y="422.8" font-size="15.33" font-weight="bold">=</text>
<text x="357.14" y="421.4" font-size="14.6" font-weight="bold" textLength="18.8" lengthAdjust="spacingAndGlyphs">0.2</text>
<text x="381.24" y="421.4" font-size="14.6" font-weight="bold">V</text>
<text x="308.44" y="446.8" font-size="14.6" font-weight="bold">V</text>
<text x="318.92" y="451.2" font-size="14" font-weight="bold" textLength="19.6" lengthAdjust="spacingAndGlyphs">GS</text>
<text x="343.47" y="448.2" font-size="15.33" font-weight="bold">=</text>
<text x="357.14" y="446.8" font-size="14.6" font-weight="bold" textLength="18.8" lengthAdjust="spacingAndGlyphs">0.7</text>
<text x="381.24" y="446.8" font-size="14.6" font-weight="bold">V</text>
</g>
</svg>
</body></html>
